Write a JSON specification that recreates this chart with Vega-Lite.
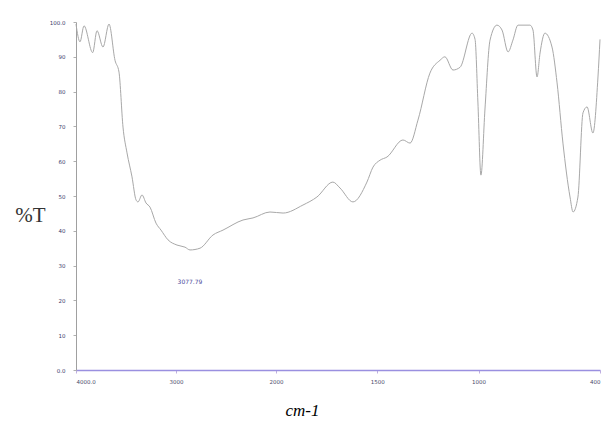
{
  "$schema": "https://vega.github.io/schema/vega-lite/v6.json",
  "width": 524,
  "height": 348,
  "autosize": {"type": "none"},
  "padding": {"left": 76, "top": 22, "right": 5, "bottom": 64},
  "background": "white",
  "config": {"view": {"stroke": null}, "axis": {"labelOverlap": false}},
  "datasets": {
    "spectrum": [
      {"wn": 4000, "t": 99.4}, {"wn": 3960, "t": 94.3}, {"wn": 3920, "t": 98.9},
      {"wn": 3833, "t": 91.2}, {"wn": 3790, "t": 97.5}, {"wn": 3730, "t": 92.8},
      {"wn": 3670, "t": 99.4}, {"wn": 3610, "t": 89.0}, {"wn": 3570, "t": 85.6},
      {"wn": 3530, "t": 69.8}, {"wn": 3490, "t": 62.4}, {"wn": 3440, "t": 55.5},
      {"wn": 3400, "t": 48.9}, {"wn": 3380, "t": 48.3}, {"wn": 3340, "t": 50.3},
      {"wn": 3300, "t": 48.0}, {"wn": 3260, "t": 46.8}, {"wn": 3200, "t": 42.2},
      {"wn": 3150, "t": 40.2}, {"wn": 3080, "t": 37.4}, {"wn": 2990, "t": 35.9},
      {"wn": 2910, "t": 35.3}, {"wn": 2860, "t": 34.5}, {"wn": 2760, "t": 35.0},
      {"wn": 2630, "t": 38.8}, {"wn": 2530, "t": 40.2}, {"wn": 2330, "t": 43.1},
      {"wn": 2230, "t": 43.7}, {"wn": 2060, "t": 45.4}, {"wn": 1965, "t": 45.1},
      {"wn": 1867, "t": 47.4}, {"wn": 1798, "t": 49.7}, {"wn": 1719, "t": 54.0},
      {"wn": 1684, "t": 52.3}, {"wn": 1620, "t": 48.3}, {"wn": 1551, "t": 54.0},
      {"wn": 1521, "t": 58.3}, {"wn": 1486, "t": 60.3}, {"wn": 1452, "t": 61.2},
      {"wn": 1373, "t": 66.1}, {"wn": 1338, "t": 65.2}, {"wn": 1299, "t": 71.8},
      {"wn": 1240, "t": 85.3}, {"wn": 1190, "t": 89.0}, {"wn": 1166, "t": 90.0},
      {"wn": 1126, "t": 86.2}, {"wn": 1091, "t": 87.0}, {"wn": 1032, "t": 96.8},
      {"wn": 1017, "t": 95.0}, {"wn": 1003, "t": 77.0}, {"wn": 988, "t": 56.0},
      {"wn": 968, "t": 75.0}, {"wn": 943, "t": 94.8}, {"wn": 909, "t": 99.1},
      {"wn": 884, "t": 97.7}, {"wn": 854, "t": 91.4}, {"wn": 830, "t": 94.8},
      {"wn": 805, "t": 99.1}, {"wn": 746, "t": 99.1}, {"wn": 731, "t": 97.7},
      {"wn": 711, "t": 84.2}, {"wn": 696, "t": 91.1}, {"wn": 672, "t": 96.8},
      {"wn": 637, "t": 92.8}, {"wn": 612, "t": 82.5}, {"wn": 583, "t": 65.2},
      {"wn": 548, "t": 49.7}, {"wn": 533, "t": 45.4}, {"wn": 509, "t": 49.7},
      {"wn": 484, "t": 73.9}, {"wn": 464, "t": 75.6}, {"wn": 435, "t": 68.1},
      {"wn": 410, "t": 84.2}, {"wn": 400, "t": 95.0}
    ],
    "labels": [
      {"wn": 2860, "t": 25.3, "label": "3077.79"}
    ]
  },
  "layer": [
    {
      "data": {"name": "spectrum"},
      "mark": {"type": "line", "color": "#a8a8a8", "strokeWidth": 1, "interpolate": "monotone"},
      "encoding": {
        "x": {
          "field": "wn", "type": "quantitative",
          "scale": {"domain": [4000, 2000, 400], "range": [0, 200, 524], "nice": false, "zero": false},
          "axis": {
            "values": [4000, 3000, 2000, 1500, 1000, 400],
            "labelExpr": "datum.value == 4000 ? '4000.0' : '' + datum.value",
            "labelOverlap": false,
            "labelFontSize": 5.5, "labelColor": "#4a4a6a", "labelFont": "DejaVu Sans",
            "labelPadding": 6,
            "domainColor": "#9a90e0", "domainWidth": 1.5,
            "tickColor": "#c0b0e0", "tickSize": 3,
            "grid": false,
            "title": "cm-1", "titleFont": "Liberation Serif", "titleFontStyle": "italic",
            "titleFontWeight": "normal", "titleFontSize": 17, "titleColor": "#000000",
            "titleX": 226, "titleY": 40, "titleBaseline": "middle", "titleAlign": "center"
          }
        },
        "y": {
          "field": "t", "type": "quantitative",
          "scale": {"domain": [0, 100], "nice": false, "zero": false},
          "axis": {
            "values": [0, 10, 20, 30, 40, 50, 60, 70, 80, 90, 100],
            "tickCount": 11,
            "labelExpr": "datum.value == 0 ? '0.0' : datum.value == 100 ? '100.0' : '' + datum.value",
            "labelOverlap": false,
            "labelSeparation": 0,
            "labelFontSize": 5.5, "labelColor": "#3a3a6a", "labelFont": "DejaVu Sans",
            "labelPadding": 8,
            "domainColor": "#a0a0a0", "domainWidth": 1,
            "tickColor": "#b0b0b0", "tickSize": 3,
            "grid": false,
            "title": "%T", "titleFont": "Liberation Serif", "titleFontWeight": "normal",
            "titleFontSize": 21, "titleColor": "#333333", "titleAngle": 0,
            "titleX": -46, "titleY": 193, "titleBaseline": "middle", "titleAlign": "center"
          }
        }
      }
    },
    {
      "data": {"name": "labels"},
      "mark": {"type": "text", "fontSize": 6, "color": "#4a4a9a", "font": "DejaVu Sans", "align": "center", "baseline": "middle"},
      "encoding": {
        "x": {"field": "wn", "type": "quantitative"},
        "y": {"field": "t", "type": "quantitative"},
        "text": {"field": "label"}
      }
    }
  ]
}
